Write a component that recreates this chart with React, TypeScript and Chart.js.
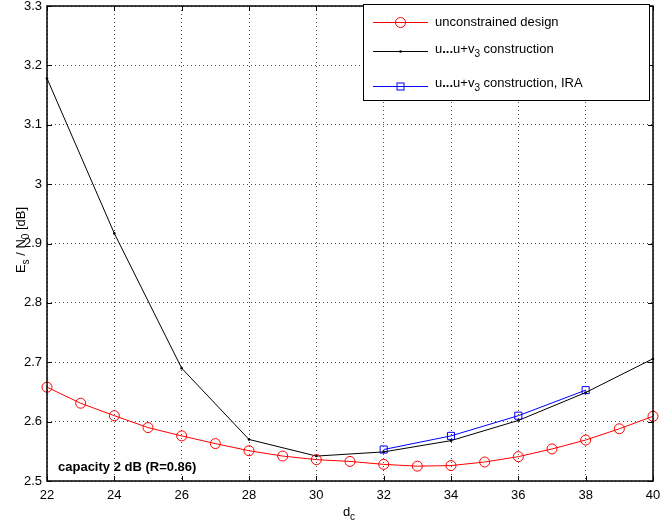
import React, { useEffect, useRef } from "react";
import { Chart, registerables } from "chart.js";

Chart.register(...registerables);

// ---- data ----
const dcAll = [22, 23, 24, 25, 26, 27, 28, 29, 30, 31, 32, 33, 34, 35, 36, 37, 38, 39, 40];
const unconstrained = [2.658, 2.631, 2.610, 2.590, 2.576, 2.563, 2.551, 2.542, 2.536, 2.533, 2.528, 2.525, 2.526, 2.532, 2.541, 2.554, 2.569, 2.588, 2.609];
const dcEven = [22, 24, 26, 28, 30, 32, 34, 36, 38, 40];
const construction = [3.178, 2.917, 2.690, 2.570, 2.542, 2.549, 2.568, 2.602, 2.649, 2.706];
const dcIRA = [32, 34, 36, 38];
const constructionIRA = [2.553, 2.576, 2.610, 2.653];

const xMin = 22, xMax = 40, xStep = 2;
const yMin = 2.5, yMax = 3.3, yStep = 0.1;

const annotationText = "capacity 2 dB (R=0.86)";

type Seg = { t: string; b?: boolean; sub?: boolean };
const legendRows: { segs: Seg[]; color: string; marker: "circle" | "dot" | "square" }[] = [
  { segs: [{ t: "unconstrained design" }], color: "#ff0000", marker: "circle" },
  { segs: [{ t: "u" }, { t: "...", b: true }, { t: "u+v" }, { t: "3", sub: true }, { t: " construction" }], color: "#000000", marker: "dot" },
  { segs: [{ t: "u" }, { t: "...", b: true }, { t: "u+v" }, { t: "3", sub: true }, { t: " construction, IRA" }], color: "#0000ff", marker: "square" },
];
const xTitle: Seg[] = [{ t: "d" }, { t: "c", sub: true }];
const yTitle: Seg[] = [{ t: "E" }, { t: "s", sub: true }, { t: " / N" }, { t: "0", sub: true }, { t: " [dB]" }];

const FAMILY = '"Liberation Sans", Arial, Helvetica, sans-serif';

function segFont(s: Seg, size: number) {
  return `${s.b ? "bold " : ""}${s.sub ? Math.round(size * 0.75) : size}px ${FAMILY}`;
}
function measureRich(ctx: CanvasRenderingContext2D, segs: Seg[], size: number) {
  let w = 0;
  for (const s of segs) {
    ctx.font = segFont(s, size);
    w += ctx.measureText(s.t).width;
  }
  return w;
}
function drawRich(ctx: CanvasRenderingContext2D, segs: Seg[], x: number, y: number, size: number) {
  ctx.textBaseline = "middle";
  ctx.textAlign = "left";
  let cx = x;
  for (const s of segs) {
    ctx.font = segFont(s, size);
    ctx.fillText(s.t, cx, s.sub ? y + 5 : y);
    cx += ctx.measureText(s.t).width;
  }
}

function drawMarker(ctx: CanvasRenderingContext2D, kind: string, x: number, y: number, color: string) {
  ctx.save();
  ctx.strokeStyle = color;
  ctx.fillStyle = color;
  ctx.lineWidth = 1;
  if (kind === "circle") {
    ctx.beginPath();
    ctx.arc(x, y, 5, 0, Math.PI * 2);
    ctx.stroke();
  } else if (kind === "dot") {
    ctx.beginPath();
    ctx.arc(x, y, 1.3, 0, Math.PI * 2);
    ctx.fill();
  } else {
    ctx.strokeRect(x - 3.5, y - 3.5, 7, 7);
  }
  ctx.restore();
}

const decorPlugin = {
  id: "decor",
  beforeDraw(chart: any) {
    const ctx = chart.ctx;
    ctx.save();
    ctx.fillStyle = "#fff";
    ctx.fillRect(0, 0, chart.width, chart.height);
    ctx.restore();
  },
  afterDatasetsDraw(chart: any) {
    const { ctx, chartArea: a, scales } = chart;
    const xs = scales.x, ys = scales.y;
    ctx.save();
    // inward ticks
    ctx.strokeStyle = "#000";
    ctx.lineWidth = 1;
    ctx.beginPath();
    for (const t of xs.ticks) {
      const px = Math.round(xs.getPixelForValue(t.value)) + 0.5;
      ctx.moveTo(px, a.bottom);
      ctx.lineTo(px, a.bottom - 5);
      ctx.moveTo(px, a.top);
      ctx.lineTo(px, a.top + 5);
    }
    for (const t of ys.ticks) {
      const py = Math.round(ys.getPixelForValue(t.value)) + 0.5;
      ctx.moveTo(a.left, py);
      ctx.lineTo(a.left + 5, py);
      ctx.moveTo(a.right, py);
      ctx.lineTo(a.right - 5, py);
    }
    ctx.stroke();
    // frame
    ctx.lineWidth = 1.5;
    ctx.strokeRect(a.left, a.top, a.right - a.left, a.bottom - a.top);

    // annotation
    ctx.fillStyle = "#000";
    ctx.font = `bold 13px ${FAMILY}`;
    ctx.textBaseline = "middle";
    ctx.textAlign = "left";
    ctx.fillText(annotationText, 58, 467);

    // legend
    const lx = 363.5, ly = 4.5, lw = 286, lh = 96;
    ctx.fillStyle = "#fff";
    ctx.fillRect(lx, ly, lw, lh);
    ctx.strokeStyle = "#000";
    ctx.lineWidth = 1;
    ctx.strokeRect(lx, ly, lw, lh);
    const lineYs = [22, 51, 86];
    const textYs = [22, 49, 83];
    legendRows.forEach((r, i) => {
      ctx.strokeStyle = r.color;
      ctx.lineWidth = 1;
      ctx.beginPath();
      ctx.moveTo(373, lineYs[i] + 0.5);
      ctx.lineTo(428, lineYs[i] + 0.5);
      ctx.stroke();
      drawMarker(ctx, r.marker, 400.5, lineYs[i] + 0.5, r.color);
      ctx.fillStyle = "#000";
      drawRich(ctx, r.segs, 435, textYs[i], 13);
    });

    // x title
    ctx.fillStyle = "#000";
    const wx = measureRich(ctx, xTitle, 13);
    drawRich(ctx, xTitle, 349 - wx / 2, 512, 13);

    // y title
    const wy = measureRich(ctx, yTitle, 13);
    ctx.translate(21.5, 240);
    ctx.rotate(-Math.PI / 2);
    drawRich(ctx, yTitle, -wy / 2, 0, 13);
    ctx.restore();
  },
};

export default function App() {
  const ref = useRef<HTMLCanvasElement | null>(null);
  useEffect(() => {
    document.body.style.margin = "0";
    const canvas = ref.current!;
    const gridColor = "rgba(0,0,0,0.7)";
    const chart = new Chart(canvas, {
      type: "line",
      data: {
        datasets: [
          {
            label: "unconstrained design",
            data: dcAll.map((x, i) => ({ x, y: unconstrained[i] })),
            borderColor: "#ff0000",
            backgroundColor: "transparent",
            borderWidth: 1,
            pointStyle: "circle",
            pointRadius: 5,
            pointBorderWidth: 1,
            pointBorderColor: "#ff0000",
            pointBackgroundColor: "transparent",
            tension: 0,
            clip: false as any,
          },
          {
            label: "u...u+v3 construction",
            data: dcEven.map((x, i) => ({ x, y: construction[i] })),
            borderColor: "#000000",
            backgroundColor: "#000000",
            borderWidth: 1,
            pointStyle: "circle",
            pointRadius: 1.3,
            pointBorderWidth: 0,
            pointBackgroundColor: "#000000",
            tension: 0,
            clip: false as any,
          },
          {
            label: "u...u+v3 construction, IRA",
            data: dcIRA.map((x, i) => ({ x, y: constructionIRA[i] })),
            borderColor: "#0000ff",
            backgroundColor: "transparent",
            borderWidth: 1,
            pointStyle: "rect",
            pointRadius: 5,
            pointBorderWidth: 1,
            pointBorderColor: "#0000ff",
            pointBackgroundColor: "transparent",
            tension: 0,
            clip: false as any,
          },
        ],
      },
      options: {
        responsive: false,
        animation: false,
        events: [],
        layout: { padding: { top: 4, right: 7, left: 0, bottom: 0 } },
        plugins: { legend: { display: false }, tooltip: { enabled: false }, title: { display: false } },
        scales: {
          x: {
            type: "linear",
            min: xMin,
            max: xMax,
            ticks: {
              stepSize: xStep,
              color: "#000",
              font: { family: FAMILY, size: 13 },
              padding: 7,
              maxRotation: 0,
              autoSkip: false,
            },
            grid: { color: gridColor, lineWidth: 1, drawTicks: false },
            border: { display: false, dash: [1, 3] },
            afterFit: (s: any) => {
              s.height = 46;
              s.paddingLeft = 0;
              s.paddingRight = 0;
            },
          },
          y: {
            type: "linear",
            min: yMin,
            max: yMax,
            ticks: {
              stepSize: yStep,
              color: "#000",
              font: { family: FAMILY, size: 13 },
              padding: 5,
              autoSkip: false,
              callback: (v: any) => String(parseFloat(Number(v).toFixed(2))),
            },
            grid: { color: gridColor, lineWidth: 1, drawTicks: false },
            border: { display: false, dash: [1, 3] },
            afterFit: (s: any) => {
              s.width = 47;
              s.paddingTop = 0;
              s.paddingBottom = 0;
            },
          },
        },
      },
      plugins: [decorPlugin],
    });
    return () => chart.destroy();
  }, []);
  return (
    <div style={{ position: "absolute", left: 0, top: 0, width: 660, height: 527 }}>
      <canvas ref={ref} width={660} height={527} style={{ display: "block", width: 660, height: 527 }} />
    </div>
  );
}
